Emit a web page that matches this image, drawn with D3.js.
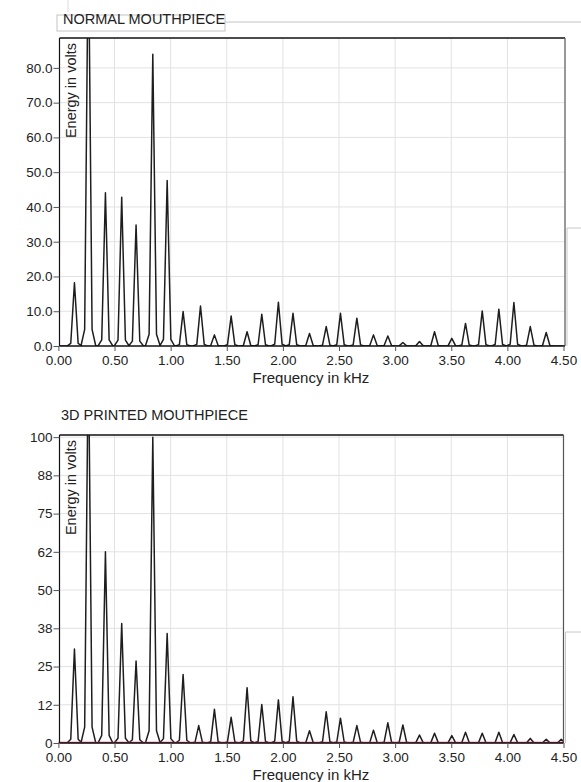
<!DOCTYPE html>
<html>
<head>
<meta charset="utf-8">
<script src="https://cdn.jsdelivr.net/npm/d3@7/dist/d3.min.js"></script>
<style>
html,body{margin:0;padding:0;background:#fff;}
svg{display:block;font-family:"Liberation Sans",Arial,Helvetica,sans-serif;}
</style>
</head>
<body>
<svg id="chart" width="581" height="782"></svg>
<script>
// ---- Data ----
const normalFreq = [0.143,0.267,0.419,0.564,0.692,0.841,0.969,1.111,1.266,1.390,1.539,1.681,1.812,1.960,2.090,2.237,2.386,2.513,2.659,2.807,2.935,3.069,3.217,3.351,3.505,3.627,3.776,3.924,4.058,4.204,4.346];
const normalEnergy = [18.2,120,44.1,42.8,34.8,83.9,47.6,9.9,11.5,3.2,8.6,4.1,9.1,12.6,9.4,3.6,5.6,9.4,8.0,3.2,2.9,1.0,1.3,4.1,2.2,6.5,10.1,10.6,12.5,5.6,3.9];

const printedFreq = [0.143,0.267,0.419,0.564,0.692,0.841,0.969,1.111,1.250,1.390,1.539,1.681,1.812,1.960,2.090,2.237,2.386,2.513,2.659,2.807,2.935,3.069,3.217,3.351,3.505,3.627,3.776,3.924,4.058,4.204,4.346,4.480];
const printedEnergy = [30.7,130,62.5,39.1,26.8,100,35.8,22.4,5.7,11.0,8.4,18.1,12.6,14.1,15.1,4.0,10.2,8.1,5.7,4.2,6.6,5.9,2.6,3.2,2.4,3.5,3.2,3.5,2.8,1.5,1.2,1.2];

const xTicks = [0,0.5,1.0,1.5,2.0,2.5,3.0,3.5,4.0,4.5];
const xTickLabels = ["0.00","0.50","1.00","1.50","2.00","2.50","3.00","3.50","4.00","4.50"];
const normalYTicks = [0,10,20,30,40,50,60,70,80];
const normalYTickLabels = ["0.0","10.0","20.0","30.0","40.0","50.0","60.0","70.0","80.0"];
const printedYTicks = [0,12.5,25,37.5,50,62.5,75,87.5,100];
const printedYTickLabels = ["0","12","25","38","50","62","75","88","100"];

const titles = ["NORMAL MOUTHPIECE","3D PRINTED MOUTHPIECE"];
const xLabel = "Frequency in kHz";
const yLabel = "Energy in volts";

// ---- Drawing ----
const svg = d3.select("#chart");

function panel(cfg){
  const g = svg.append("g");
  const x = d3.scaleLinear().domain([0,4.5]).range([cfg.x0, cfg.x1]);
  const y = d3.scaleLinear().domain([0,cfg.ymax]).range([cfg.y0, cfg.y1]);
  const clipId = "clip"+cfg.id;
  svg.append("defs").append("clipPath").attr("id",clipId)
    .append("rect").attr("x",cfg.left).attr("y",cfg.y1).attr("width",cfg.right-cfg.left).attr("height",cfg.y0-cfg.y1);

  // grid
  g.append("g").selectAll("line").data(xTicks.slice(1,-1)).join("line")
    .attr("x1",d=>x(d)).attr("x2",d=>x(d)).attr("y1",cfg.y1).attr("y2",cfg.y0)
    .attr("stroke","#e2e2e2").attr("stroke-width",1);
  g.append("g").selectAll("line").data(cfg.yTicks.slice(1)).join("line")
    .attr("x1",cfg.left).attr("x2",cfg.right).attr("y1",d=>y(d)).attr("y2",d=>y(d))
    .attr("stroke","#e2e2e2").attr("stroke-width",1);

  // spectrum
  const pts = [[0,0]];
  const w = 0.033;
  cfg.freq.forEach((f,i)=>{
    const h = cfg.energy[i];
    pts.push([f-2*w,0],[f-w,0.04*h],[f,h],[f+w,0.04*h],[f+2*w,0]);
  });
  pts.push([4.5,0]);
  const line = d3.line().x(d=>x(d[0])).y(d=>y(d[1]));
  g.append("path").attr("d",line(pts)).attr("fill","none")
    .attr("stroke","#1e1e1e").attr("stroke-width",1.5).attr("stroke-linejoin","round")
    .attr("clip-path","url(#"+clipId+")");
  if(cfg.red){
    g.append("line").attr("x1",x(0)).attr("x2",x(4.5)).attr("y1",y(0)-0.5).attr("y2",y(0)-0.5)
      .attr("stroke","#d63a6a").attr("stroke-width",1.4);
  }

  // frame
  g.append("line").attr("x1",cfg.left).attr("x2",cfg.right).attr("y1",cfg.y1).attr("y2",cfg.y1)
    .attr("stroke","#111").attr("stroke-width",1.4);
  g.append("line").attr("x1",cfg.right).attr("x2",cfg.right).attr("y1",cfg.y1).attr("y2",cfg.y0)
    .attr("stroke","#555").attr("stroke-width",1.2);

  // axes
  const xAxis = d3.axisBottom(x).tickValues(xTicks).tickFormat((d,i)=>xTickLabels[i]).tickSize(5).tickSizeOuter(0);
  const gx = g.append("g").attr("transform",`translate(0,${cfg.y0})`).call(xAxis);
  gx.select(".domain").attr("stroke","#111").attr("stroke-width",1.4).attr("d",`M${cfg.left},0H${cfg.right}`);
  gx.selectAll(".tick line").attr("stroke","#555");
  gx.selectAll(".tick text").attr("font-size",13.5).attr("fill","#222").attr("dy","0.85em");

  const yAxis = d3.axisLeft(y).tickValues(cfg.yTicks).tickFormat((d,i)=>cfg.yTickLabels[i]).tickSize(6).tickSizeOuter(0);
  const gy = g.append("g").attr("transform",`translate(${cfg.left},0)`).call(yAxis);
  gy.select(".domain").attr("stroke","#111").attr("stroke-width",1.2).attr("d",`M0,${cfg.y1}V${cfg.y0}`);
  gy.selectAll(".tick line").attr("stroke","#555");
  gy.selectAll(".tick text").attr("font-size",13.5).attr("fill","#222").attr("x",-7);

  // labels
  g.append("text").attr("transform",`translate(${cfg.left+16.5},${cfg.y1+5}) rotate(-90)`)
    .attr("text-anchor","end").attr("font-size",14.5).attr("fill","#222").text(yLabel);
  g.append("text").attr("x",(cfg.x0+cfg.x1)/2).attr("y",cfg.y0+37)
    .attr("text-anchor","middle").attr("font-size",15).attr("fill","#222").text(xLabel);
  g.append("text").attr("x",cfg.tx).attr("y",cfg.ty).attr("font-size",14.5).attr("fill","#222").text(cfg.title);

  // right-side bracket artefact
  g.append("path").attr("d",`M581,${cfg.by}H${cfg.right+2}V${cfg.y0}`).attr("fill","none")
    .attr("stroke","#c8c8c8").attr("stroke-width",1);
}

// decorative title box of the first panel
svg.append("rect").attr("x",57).attr("y",15).attr("width",168).attr("height",16)
  .attr("fill","none").attr("stroke","#c4c4c4").attr("stroke-width",1);
svg.append("line").attr("x1",225).attr("x2",581).attr("y1",22).attr("y2",22)
  .attr("stroke","#c4c4c4").attr("stroke-width",1);
svg.append("line").attr("x1",68).attr("x2",68).attr("y1",0).attr("y2",12)
  .attr("stroke","#dddddd").attr("stroke-width",1);

panel({id:1, x0:58.4, x1:563.5, left:59.5, right:565, y0:346, y1:38, ymax:88.6,
  freq:normalFreq, energy:normalEnergy, yTicks:normalYTicks, yTickLabels:normalYTickLabels,
  title:titles[0], tx:63, ty:24, by:228, red:false});
panel({id:2, x0:58.4, x1:563.5, left:59.5, right:563.5, y0:743, y1:435, ymax:100.7,
  freq:printedFreq, energy:printedEnergy, yTicks:printedYTicks, yTickLabels:printedYTickLabels,
  title:titles[1], tx:61, ty:420, by:632, red:true});
</script>
</body>
</html>
